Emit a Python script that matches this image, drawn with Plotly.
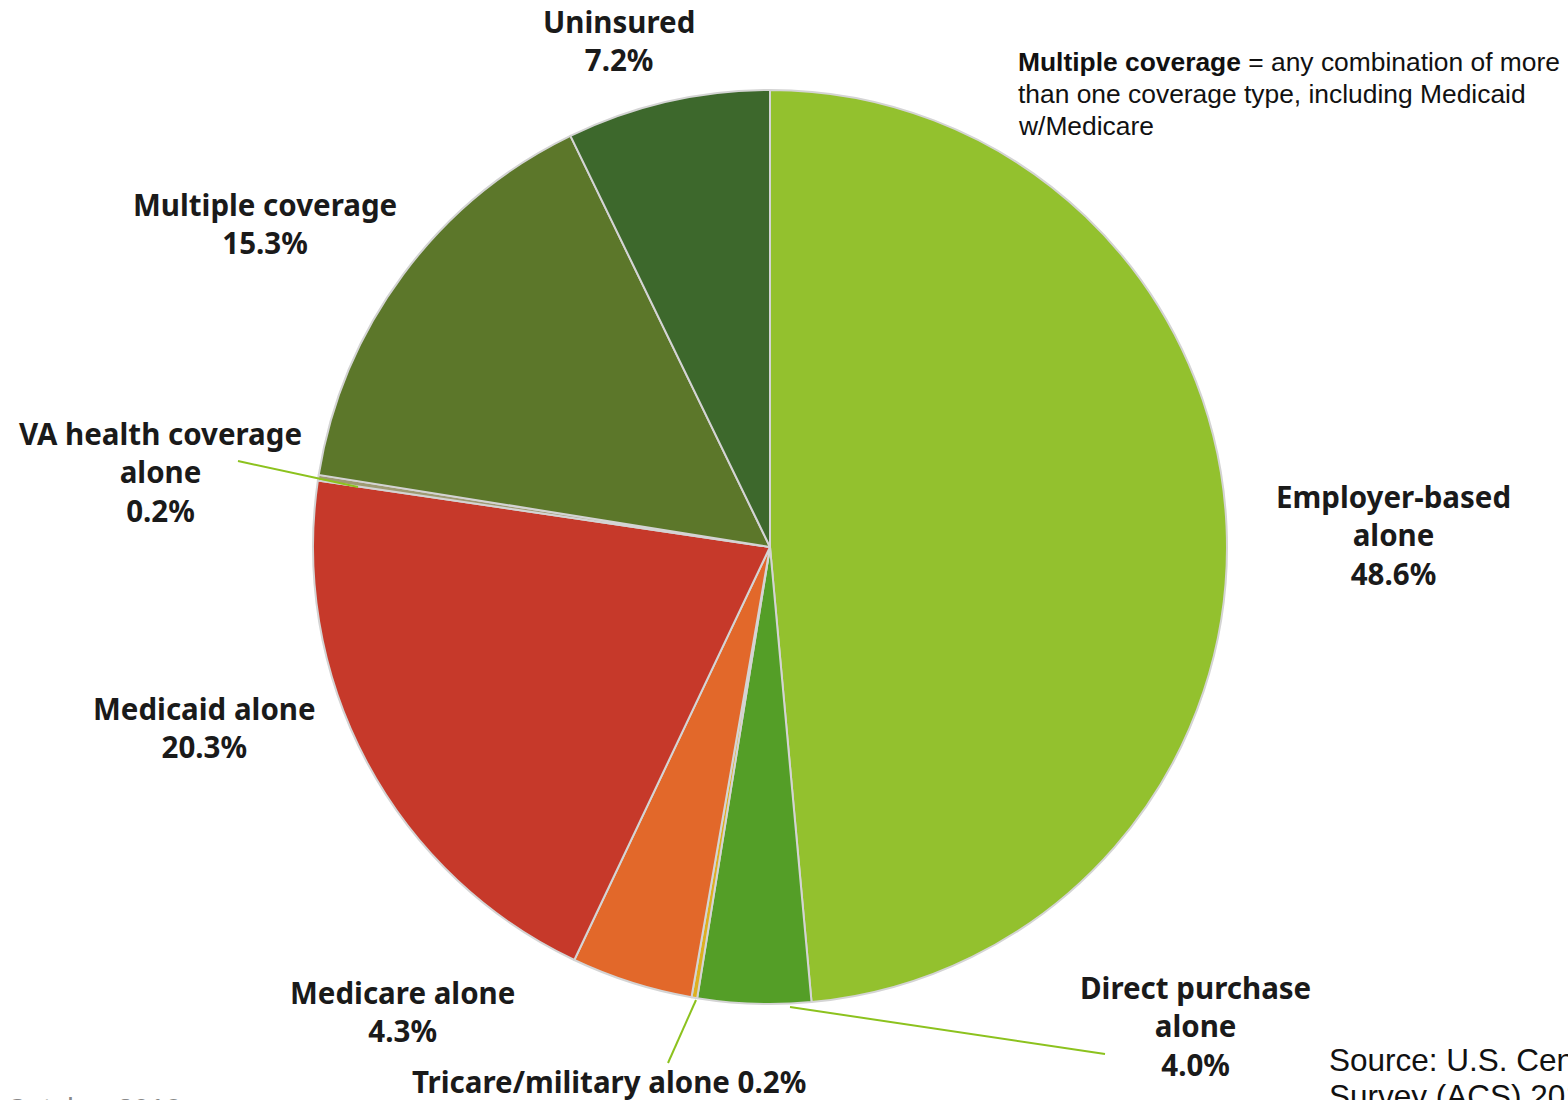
import plotly.graph_objects as go

W, H = 1568, 1100

categories = ["Employer-based alone", "Direct purchase alone", "Tricare/military alone",
              "Medicare alone", "Medicaid alone", "VA health coverage alone",
              "Multiple coverage", "Uninsured"]
values = [48.6, 4.0, 0.2, 4.3, 20.3, 0.2, 15.3, 7.2]
colors = ["#93C12E", "#549E27", "#DDB020", "#E2682A", "#C6392A", "#9E9A72", "#5C772A", "#3D682C"]

label_texts = ["Employer-based<br>alone<br>48.6%", "Direct purchase<br>alone<br>4.0%",
               "Tricare/military alone 0.2%", "Medicare alone<br>4.3%",
               "Medicaid alone<br>20.3%", "VA health coverage<br>alone<br>0.2%",
               "Multiple coverage<br>15.3%", "Uninsured<br>7.2%"]
label_px = [(1393, 535), (1195, 1026), (609, 1081), (402, 1011),
            (204, 727), (160, 472), (265, 224), (619, 40)]

note_lines = ["<b>Multiple coverage</b> = any combination of more",
              "than one coverage type, including Medicaid",
              "w/Medicare"]
source_lines = ["Source: U.S. Census Bureau, American Community",
                "Survey (ACS) 2018 1-year estimates"]
date_text = "October 2019"

def px(x, y):
    return x / W, 1 - y / H

cx, cy, r = 770, 547, 457
x0, y0 = px(cx - r, cy + r)
x1, y1 = px(cx + r, cy - r)

fig = go.Figure(go.Pie(
    labels=categories, values=values, sort=False, direction="clockwise", rotation=0,
    marker=dict(colors=colors, line=dict(color="#D4D4D4", width=2)),
    textinfo="none", hoverinfo="label+percent",
    domain=dict(x=[x0, x1], y=[y0, y1]),
))

annotations = []
for t, (lx, ly) in zip(label_texts, label_px):
    ax, ay = px(lx, ly)
    annotations.append(dict(x=ax, y=ay, xref="paper", yref="paper",
                            text="<b>" + t.replace("<br>", "</b><br><b>") + "</b>",
                            showarrow=False, xanchor="center", yanchor="middle", align="center",
                            font=dict(family="Noto Sans", size=29.5, color="#1A1A1A")))

for i, line in enumerate(note_lines):
    nx, ny = px(1016, 62 + 32 * i)
    annotations.append(dict(x=nx, y=ny, xref="paper", yref="paper", showarrow=False,
                            xanchor="left", yanchor="middle", align="left", text=line,
                            font=dict(family="Liberation Sans", size=26.4, color="#111111")))

for i, line in enumerate(source_lines):
    sx, sy = px(1327, 1060 + 36 * i)
    annotations.append(dict(x=sx, y=sy, xref="paper", yref="paper", showarrow=False,
                            xanchor="left", yanchor="middle", align="left", text=line,
                            font=dict(family="Liberation Sans", size=31.5, color="#111111")))

ox, oy = px(4, 1109)
annotations.append(dict(x=ox, y=oy, xref="paper", yref="paper", showarrow=False,
                        xanchor="left", yanchor="middle", align="left", text=date_text,
                        font=dict(family="Liberation Sans", size=29, color="#888888")))

leaders = [((238, 461), (358, 487)), ((668, 1063), (696, 1000)), ((1105, 1054), (790, 1007))]
shapes = []
for (a, b) in leaders:
    ax_, ay_ = px(*a)
    bx_, by_ = px(*b)
    shapes.append(dict(type="line", xref="paper", yref="paper", x0=ax_, y0=ay_, x1=bx_, y1=by_,
                       line=dict(color="#8CC21E", width=2)))

fig.update_layout(width=W, height=H, margin=dict(l=0, r=0, t=0, b=0),
                  paper_bgcolor="white", plot_bgcolor="white", showlegend=False,
                  annotations=annotations, shapes=shapes)

fig.write_html("out.html", config={"displayModeBar": False},
               post_script="document.body.style.margin='0';document.body.style.overflow='hidden';")
